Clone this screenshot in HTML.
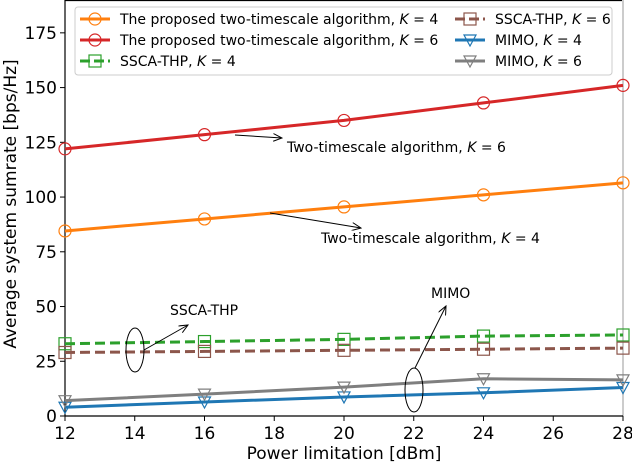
<!DOCTYPE html>
<html><head><meta charset="utf-8"><style>
body{margin:0;background:#fff}
svg text{font-family:"DejaVu Sans","Liberation Sans",sans-serif;fill:#000}
</style></head><body>
<svg id="chart" width="632" height="464" viewBox="0 0 632 464" xmlns="http://www.w3.org/2000/svg">
<defs><marker id="ah" markerWidth="10" markerHeight="8" refX="9" refY="4" orient="auto" markerUnits="userSpaceOnUse"><path d="M0,0 L9,4 L0,8" fill="none" stroke="#000" stroke-width="1"/></marker></defs>
<g id="plot"></g>
</svg>
<script>
const xValues=[12,16,20,24,28];
const propK4=[84.5,90,95.5,101,106.5];
const propK6=[122,128.5,135,143,151];
const sscaK4=[33,34,35,36.5,37];
const sscaK6=[29,29.5,30,30.5,31];
const mimoK4=[4,6.4,8.7,10.6,13];
const mimoK6=[7,10,13.2,17,16.5];
const xTicks=[12,14,16,18,20,22,24,26,28];
const yTicks=[0,25,50,75,100,125,150,175];
const X0=65,X1=623,Y0=416,YTOP=0;
const xs=v=>X0+(v-12)/(28-12)*(X1-X0);
const ys=v=>Y0-v*(Y0-YTOP)/190;
const NS="http://www.w3.org/2000/svg";
const g=document.getElementById('plot');
function mk(t,a,p){const e=document.createElementNS(NS,t);for(const k in a)e.setAttribute(k,a[k]);(p||g).appendChild(e);return e;}
let e;
e=mk('line',{x1:X0,y1:0.5,x2:X1,y2:0.5,stroke:'#000','stroke-width':1.2});

e=mk('line',{x1:X1,y1:0,x2:X1,y2:Y0,stroke:'#ccc','stroke-width':2});

e=mk('line',{x1:X0,y1:0,x2:X0,y2:Y0,stroke:'#000','stroke-width':1.2});

e=mk('line',{x1:X0,y1:Y0,x2:X1,y2:Y0,stroke:'#000','stroke-width':1.2});

xTicks.forEach(t=>{const x=xs(t);
 e=mk('line',{x1:x,y1:Y0,x2:x,y2:Y0+5,stroke:'#000'});
 
 e=mk('text',{x:x,y:Y0+23,'text-anchor':'middle','font-size':17});e.textContent=t;
 });
yTicks.forEach(t=>{const y=ys(t);
 e=mk('line',{x1:X0-5,y1:y,x2:X0,y2:y,stroke:'#000'});
 
 e=mk('text',{x:X0-8,y:y+6,'text-anchor':'end','font-size':17});e.textContent=t;
 });
e=mk('text',{x:344,y:459,'text-anchor':'middle','font-size':17});e.textContent='Power limitation [dBm]';

e=mk('text',{x:0,y:0,'text-anchor':'middle','font-size':17,transform:'translate(16,204) rotate(-90)'});e.textContent='Average system sumrate [bps/Hz]';

function marker(type,x,y,c,p){
 if(type==='o')return mk('circle',{cx:x,cy:y,r:6,fill:'none',stroke:c,'stroke-width':1.2},p);
 if(type==='s')return mk('rect',{x:x-6,y:y-6,width:12,height:12,fill:'none',stroke:c,'stroke-width':1.2},p);
 return mk('path',{d:`M${x-6},${y-5} L${x+6},${y-5} L${x},${y+6} Z`,fill:'none',stroke:c,'stroke-width':1.2},p);
}
const series=[
 {n:'proposed-k4',d:propK4,c:'#ff7f0e',m:'o',dash:''},
 {n:'proposed-k6',d:propK6,c:'#d62728',m:'o',dash:''},
 {n:'ssca-k4',d:sscaK4,c:'#2ca02c',m:'s',dash:'10,5'},
 {n:'ssca-k6',d:sscaK6,c:'#8c564b',m:'s',dash:'10,5'},
 {n:'mimo-k4',d:mimoK4,c:'#1f77b4',m:'v',dash:''},
 {n:'mimo-k6',d:mimoK6,c:'#7f7f7f',m:'v',dash:''}];
series.forEach(s=>{
 const pts=s.d.map((v,i)=>xs(xValues[i])+','+ys(v)).join(' ');
 e=mk('polyline',{points:pts,fill:'none',stroke:s.c,'stroke-width':3,'stroke-dasharray':s.dash});
 
 s.d.forEach((v,i)=>{e=marker(s.m,xs(xValues[i]),ys(v),s.c);
  });
});
const lg=mk('g',{});

mk('rect',{x:75,y:7,width:537,height:68,rx:3,fill:'#fff',stroke:'#ccc','fill-opacity':0.9},lg);
const items=[
 [0,0,'The proposed two-timescale algorithm, ','4'],[0,1,'The proposed two-timescale algorithm, ','6'],[0,2,'SSCA-THP, ','4'],
 [1,0,'SSCA-THP, ','6'],[1,1,'MIMO, ','4'],[1,2,'MIMO, ','6']];
items.forEach((it,i)=>{const s=series[i];const lx=it[0]?455:80;const y=19+it[1]*21;
 const ge=mk('g',{},lg);
 
 mk('line',{x1:lx,y1:y,x2:lx+30,y2:y,stroke:s.c,'stroke-width':3,'stroke-dasharray':s.dash?'10,4':''},ge);
 marker(s.m,lx+15,y,s.c,ge);
 const t=mk('text',{x:lx+40,y:y+5,'font-size':14},ge);
 t.innerHTML=it[2]+'<tspan font-style="italic">K</tspan> = '+it[3];
});
function ann(name,build){const a=mk('g',{});build(a);}
ann('annotation-k6',a=>{mk('line',{x1:235,y1:135,x2:282,y2:138,stroke:'#000','marker-end':'url(#ah)'},a);
 mk('text',{x:287,y:152,'font-size':14},a).innerHTML='Two-timescale algorithm, <tspan font-style="italic">K</tspan> = 6';});
ann('annotation-k4',a=>{mk('line',{x1:270,y1:213,x2:361,y2:228,stroke:'#000','marker-end':'url(#ah)'},a);
 mk('text',{x:321,y:243,'font-size':14},a).innerHTML='Two-timescale algorithm, <tspan font-style="italic">K</tspan> = 4';});
ann('annotation-ssca',a=>{mk('ellipse',{cx:135,cy:350,rx:9,ry:22,fill:'none',stroke:'#000'},a);
 mk('line',{x1:144,y1:350,x2:188,y2:325,stroke:'#000','marker-end':'url(#ah)'},a);
 mk('text',{x:170,y:315,'font-size':14},a).textContent='SSCA-THP';});
ann('annotation-mimo',a=>{mk('ellipse',{cx:414,cy:390,rx:9,ry:22,fill:'none',stroke:'#000'},a);
 mk('line',{x1:415,y1:368,x2:446,y2:306,stroke:'#000','marker-end':'url(#ah)'},a);
 mk('text',{x:431,y:298,'font-size':14},a).textContent='MIMO';});
</script>
</body></html>
